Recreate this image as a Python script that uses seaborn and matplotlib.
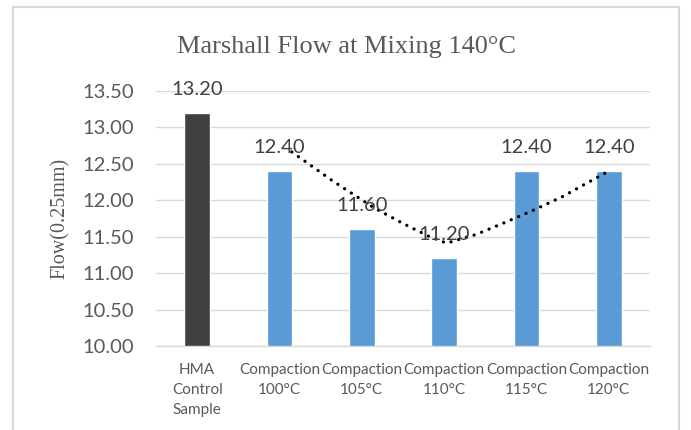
import matplotlib
matplotlib.use("Agg")
import matplotlib.pyplot as plt
from matplotlib.patches import Rectangle
import seaborn as sns

# Marshall flow values per sample group
categories = ["HMA\nControl\nSample", "Compaction\n100°C", "Compaction\n105°C",
              "Compaction\n110°C", "Compaction\n115°C", "Compaction\n120°C"]
flow_values = [13.20, 12.40, 11.60, 11.20, 12.40, 12.40]
value_labels = ["13.20", "12.40", "11.60", "11.20", "12.40", "12.40"]

# Polynomial trend over the compaction samples (category position, flow)
trend_pos = [1.15, 1.65, 2.14, 2.50, 2.82, 3.03, 3.39, 3.71, 4.08, 4.44, 4.76, 4.97]
trend_val = [12.66, 12.26, 11.90, 11.68, 11.50, 11.41, 11.53, 11.68, 11.86, 12.05, 12.25, 12.38]

y_ticks = [10.00, 10.50, 11.00, 11.50, 12.00, 12.50, 13.00, 13.50]

sns.set_theme(style="white")
serif = ["Liberation Serif", "DejaVu Serif"]
sans = ["Lato", "DejaVu Sans"]
plt.rcParams["font.family"] = sans

fig = plt.figure(figsize=(6.91, 4.30), dpi=100)
ax = fig.add_axes([156 / 691, 1 - 346 / 430, 494 / 691, (346 - 90.7) / 430])

palette = ["#404040"] + ["#5b9bd5"] * 5
sns.barplot(x=categories, y=flow_values, hue=categories, palette=palette,
            legend=False, width=0.315, saturation=1, ax=ax, zorder=2)

sns.lineplot(x=trend_pos, y=trend_val, ax=ax, sort=False, estimator=None,
             color="black", lw=2.4, linestyle=(0, (0.01, 2.4)),
             dash_capstyle="round", zorder=4)

for i, (v, lab) in enumerate(zip(flow_values, value_labels)):
    ax.annotate(lab, xy=(i, v), xytext=(0, 13), textcoords="offset points",
                ha="center", va="baseline", fontsize=14.5, color="#404040",
                fontfamily=sans, zorder=5, annotation_clip=False)

ax.set_xlim(-0.5, 5.5)
ax.set_ylim(10, 13.5)
ax.set_yticks(y_ticks)
ax.set_yticklabels([f"{t:.2f}" for t in y_ticks])
ax.yaxis.grid(True, color="#d9d9d9", lw=1)
ax.set_axisbelow(True)
for side in ["left", "top", "right"]:
    ax.spines[side].set_visible(False)
ax.spines["bottom"].set_color("#d9d9d9")
ax.spines["bottom"].set_linewidth(1)

ax.tick_params(axis="y", length=0, pad=16, labelsize=14.5, labelcolor="#595959")
ax.tick_params(axis="x", length=0, pad=12, labelsize=11, labelcolor="#595959")
for t in ax.get_xticklabels():
    t.set_linespacing(1.55)

ax.set_xlabel("")
ax.set_ylabel("Flow(0.25mm)", fontfamily=serif, fontsize=14.5, color="#595959")
ax.yaxis.set_label_coords(-0.174, 0.5)

fig.text(346.5 / 691, 1 - 52.7 / 430, "Marshall Flow at Mixing 140°C",
         ha="center", va="baseline", fontsize=19, color="#595959", fontfamily=serif)

fig.patches.append(Rectangle((12.7 / 691, -0.1), (679 - 12.7) / 691, 1.1 - 7 / 430,
                             transform=fig.transFigure, fill=False,
                             edgecolor="#d9d9d9", lw=1.5))

fig.savefig("out.png", dpi=100)
